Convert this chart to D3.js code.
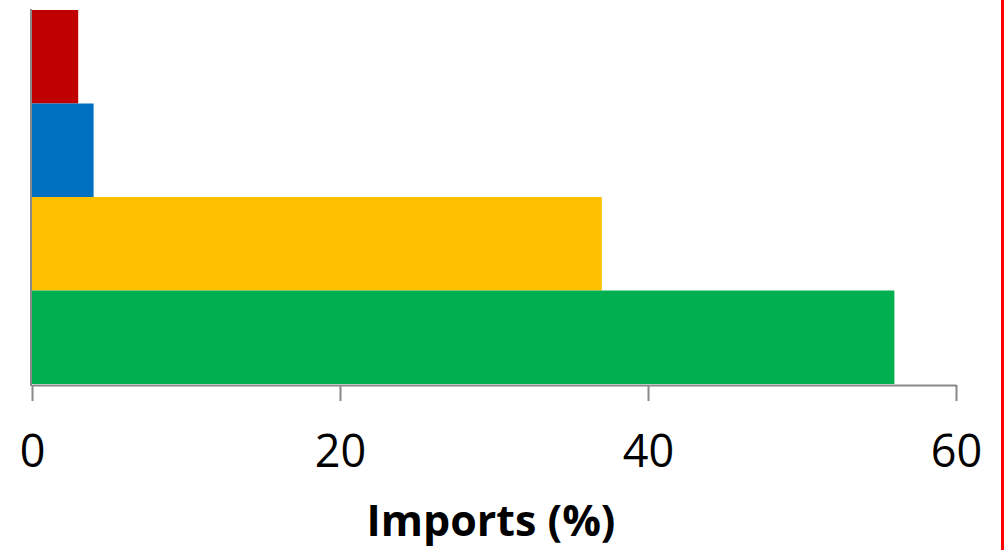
<!DOCTYPE html>
<html>
<head>
<meta charset="utf-8">
<script src="https://cdn.jsdelivr.net/npm/d3@7"></script>
<style>
  html, body { margin: 0; padding: 0; background: #fff; }
  svg { display: block; }
</style>
</head>
<body>
<svg id="chart" width="1005" height="550"></svg>
<script>
// Import shares by supplier group, top to bottom
const categories = ["Group 1", "Group 2", "Group 3", "Group 4"];
const values = [3, 4, 37, 56];
const colors = ["#C00000", "#0070C0", "#FFC000", "#00B050"];
const tickValues = [0, 20, 40, 60];
const axisTitle = "Imports (%)";

const svg = d3.select("#chart");
const W = 1005, H = 550;
const plotLeft = 32, plotRight = 956, plotTop = 10, plotBottom = 384;

const x = d3.scaleLinear().domain([0, 60]).range([plotLeft, plotRight]);
const y = d3.scaleBand().domain(categories).range([plotTop, plotBottom]).padding(0);

// bars
svg.append("g")
  .selectAll("rect")
  .data(categories)
  .join("rect")
  .attr("x", x(0))
  .attr("y", d => y(d))
  .attr("width", (d, i) => x(values[i]) - x(0))
  .attr("height", y.bandwidth())
  .attr("fill", (d, i) => colors[i]);

// x axis
const xAxis = d3.axisBottom(x)
  .tickValues(tickValues)
  .tickSize(16)
  .tickPadding(34)
  .tickSizeOuter(0);

const gx = svg.append("g")
  .attr("transform", `translate(0,${plotBottom + 1})`)
  .call(xAxis);
gx.select(".domain").attr("stroke", "#898989").attr("stroke-width", 2);
gx.selectAll(".tick line").attr("stroke", "#898989").attr("stroke-width", 2);
gx.selectAll(".tick text")
  .attr("fill", "#000")
  .style("font-family", "'Open Sans', sans-serif")
  .style("font-size", "45px");

// y axis line (no labels)
svg.append("line")
  .attr("x1", plotLeft - 1).attr("x2", plotLeft - 1)
  .attr("y1", plotTop - 1).attr("y2", plotBottom + 2)
  .attr("stroke", "#898989")
  .attr("stroke-width", 2);

// axis title
svg.append("text")
  .attr("x", 491)
  .attr("y", 536)
  .attr("text-anchor", "middle")
  .style("font-family", "'Open Sans', sans-serif")
  .style("font-weight", "bold")
  .style("font-size", "43px")
  .attr("fill", "#000")
  .text(axisTitle);

// right border
svg.append("line")
  .attr("x1", 1002.5).attr("x2", 1002.5)
  .attr("y1", 0).attr("y2", H)
  .attr("stroke", "#FF0000")
  .attr("stroke-width", 3);
</script>
</body>
</html>
